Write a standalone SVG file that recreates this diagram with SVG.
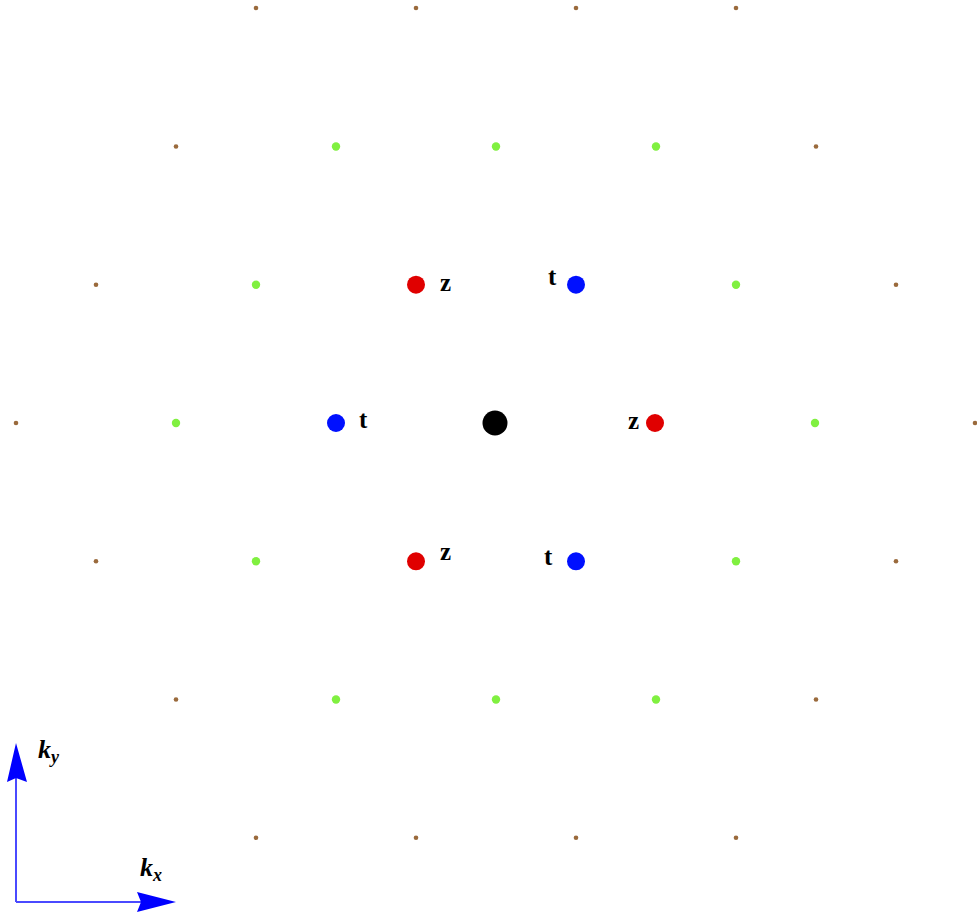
<svg xmlns="http://www.w3.org/2000/svg" width="977" height="920" viewBox="0 0 977 920">
<style>
.br{fill:#9a6a3c}
.gr{fill:#80f040}
.rd{fill:#e00000}
.bl{fill:#0010ff}
.lb{font-family:"Liberation Serif",serif;font-weight:bold;font-size:25px;fill:#000}
.ax{font-family:"Liberation Serif",serif;font-weight:bold;font-style:italic;font-size:26px;fill:#000}
.axs{font-size:18px}
.axl{stroke:#4a4aff;stroke-width:2;fill:none}
.ah{fill:#0000ff}
</style>
<rect width="977" height="920" fill="#fff"/>
<g id="lattice-brown">
<circle class="br" cx="256" cy="8" r="2.3"/><circle class="br" cx="416" cy="8" r="2.3"/><circle class="br" cx="576" cy="8" r="2.3"/><circle class="br" cx="736" cy="8" r="2.3"/>
<circle class="br" cx="176" cy="146.5" r="2.3"/><circle class="br" cx="816" cy="146.5" r="2.3"/>
<circle class="br" cx="96" cy="284.7" r="2.3"/><circle class="br" cx="896" cy="284.7" r="2.3"/>
<circle class="br" cx="16" cy="423" r="2.3"/><circle class="br" cx="975" cy="423" r="2.3"/>
<circle class="br" cx="96" cy="561.3" r="2.3"/><circle class="br" cx="896" cy="561.3" r="2.3"/>
<circle class="br" cx="176" cy="699.5" r="2.3"/><circle class="br" cx="816" cy="699.5" r="2.3"/>
<circle class="br" cx="256" cy="837.8" r="2.3"/><circle class="br" cx="416" cy="837.8" r="2.3"/><circle class="br" cx="576" cy="837.8" r="2.3"/><circle class="br" cx="736" cy="837.8" r="2.3"/>
</g>
<g id="lattice-green">
<circle class="gr" cx="336" cy="146.5" r="4.2"/><circle class="gr" cx="496" cy="146.5" r="4.2"/><circle class="gr" cx="656" cy="146.5" r="4.2"/>
<circle class="gr" cx="256" cy="284.7" r="4.2"/><circle class="gr" cx="736" cy="284.7" r="4.2"/>
<circle class="gr" cx="176" cy="423" r="4.2"/><circle class="gr" cx="815" cy="423" r="4.2"/>
<circle class="gr" cx="256" cy="561.3" r="4.2"/><circle class="gr" cx="736" cy="561.3" r="4.2"/>
<circle class="gr" cx="336" cy="699.5" r="4.2"/><circle class="gr" cx="496" cy="699.5" r="4.2"/><circle class="gr" cx="656" cy="699.5" r="4.2"/>
</g>
<g id="center"><circle cx="495" cy="423" r="12.5" fill="#000"/></g>
<g id="z1"><circle class="rd" cx="416" cy="284.7" r="9"/><text class="lb" x="440" y="291">z</text></g>
<g id="t1"><circle class="bl" cx="576" cy="284.7" r="9"/><text class="lb" x="548" y="285">t</text></g>
<g id="t2"><circle class="bl" cx="336" cy="423" r="9"/><text class="lb" x="359" y="428">t</text></g>
<g id="z2"><circle class="rd" cx="655" cy="423" r="9"/><text class="lb" x="628" y="429">z</text></g>
<g id="z3"><circle class="rd" cx="416" cy="561.3" r="9"/><text class="lb" x="440" y="560">z</text></g>
<g id="t3"><circle class="bl" cx="576" cy="561.3" r="9"/><text class="lb" x="544" y="565">t</text></g>
<g id="axes">
<line class="axl" x1="16" y1="775" x2="16" y2="902"/>
<line class="axl" x1="16" y1="902" x2="145" y2="902"/>
<polygon class="ah" points="16,743 27,782 16,778 7,782"/>
<polygon class="ah" points="176,902 137,912 141,902 137,892"/>
<text class="ax" x="38" y="758">k<tspan class="axs" dy="5">y</tspan></text>
<text class="ax" x="140" y="876">k<tspan class="axs" dy="5">x</tspan></text>
</g>
</svg>
